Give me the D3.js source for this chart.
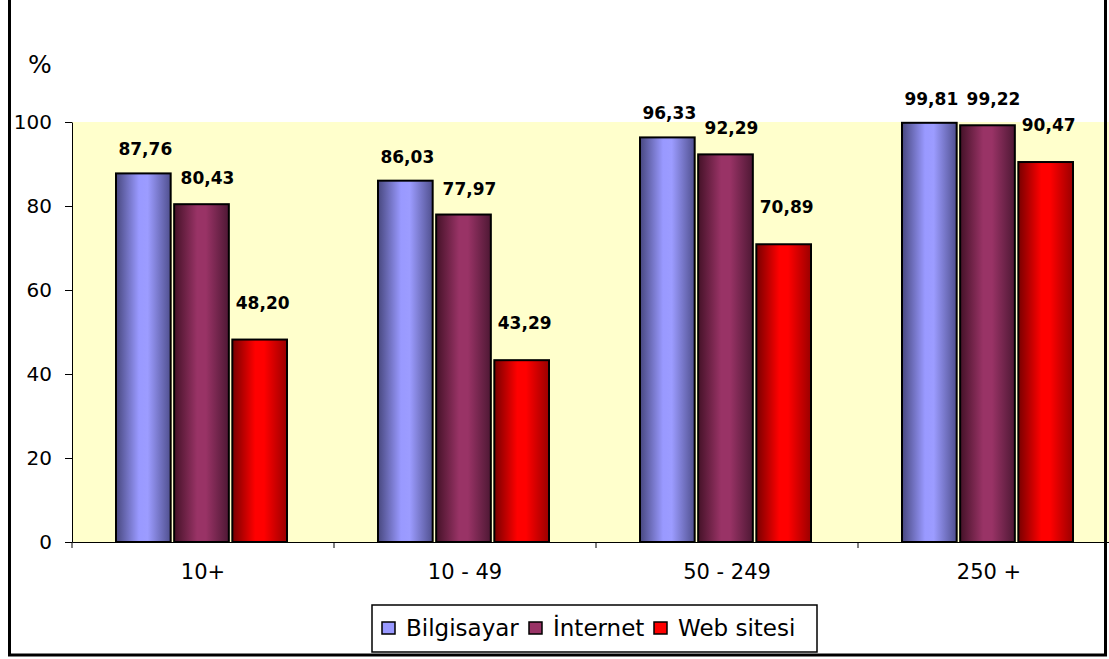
<!DOCTYPE html>
<html>
<head>
<meta charset="utf-8">
<script src="https://cdn.jsdelivr.net/npm/d3@7"></script>
<style>
  body { margin: 0; background: #fff; }
  text { font-family: "DejaVu Sans", sans-serif; fill: #000; }
</style>
</head>
<body>
<div class="chart"></div>
<script>
let categories = ['10+', '10 - 49', '50 - 249', '250 +'];
let seriesNames = ['Bilgisayar', 'İnternet', 'Web sitesi'];
let bilgisayar = [87.76, 86.03, 96.33, 99.81];
let internet = [80.43, 77.97, 92.29, 99.22];
let webSitesi = [48.20, 43.29, 70.89, 90.47];
let yTicks = [0, 20, 40, 60, 80, 100];

let seriesValues = [bilgisayar, internet, webSitesi];

let fullWidth = 1109;
let fullHeight = 659;
let margin = {top: 122, right: -11, bottom: 117, left: 72};
let width = fullWidth - margin.left - margin.right;
let height = fullHeight - margin.top - margin.bottom;

let svg = d3.select('.chart')
  .append('svg')
    .attr('width', fullWidth)
    .attr('height', fullHeight);

// bar gradients (cylinder look)
let gradients = [
  ['#48487f', '#9999ff', '#9c9cff', '#50508f'],
  ['#451228', '#993366', '#993366', '#4e1834'],
  ['#780000', '#ff0000', '#ff0000', '#9a0000']
];
let flatColors = ['#9999ff', '#993366', '#ff0000'];
// label nudges per series (px)
let labelDx = [2, 6, 3];
let labelDy = [18, 20, 31];

let defs = svg.append('defs');
gradients.forEach((g, i) => {
  let lg = defs.append('linearGradient')
    .attr('id', 'grad' + i)
    .attr('x1', 0).attr('x2', 1).attr('y1', 0).attr('y2', 0);
  lg.append('stop').attr('offset', '0%').attr('stop-color', g[0]);
  lg.append('stop').attr('offset', '42%').attr('stop-color', g[1]);
  lg.append('stop').attr('offset', '58%').attr('stop-color', g[2]);
  lg.append('stop').attr('offset', '100%').attr('stop-color', g[3]);
});

let chart = svg.append('g')
  .attr('transform', `translate(${margin.left}, ${margin.top})`);

let yScale = d3.scaleLinear()
  .domain([0, 100])
  .range([height, 0]);

let x0 = d3.scaleBand()
  .domain(categories)
  .range([0, width]);

let x1 = d3.scaleBand()
  .domain(seriesNames)
  .range([44, 215])
  .paddingInner(0.06);

// plot area
chart.append('rect')
  .attr('width', width)
  .attr('height', height)
  .style('fill', '#ffffcc');

let fmt = d3.formatLocale({decimal: ',', thousands: '.', grouping: [3], currency: ['', '']}).format('.2f');

let groups = chart.selectAll('.group')
  .data(categories)
  .enter().append('g')
    .attr('class', 'group')
    .attr('transform', d => `translate(${x0(d)}, 0)`);

let barData = (d, ci) => seriesNames.map((s, si) => ({s: s, si: si, v: seriesValues[si][ci]}));

groups.selectAll('rect')
  .data(barData)
  .enter().append('rect')
    .attr('x', d => x1(d.s))
    .attr('y', d => yScale(d.v))
    .attr('width', x1.bandwidth())
    .attr('height', d => height - yScale(d.v))
    .style('fill', d => `url(#grad${d.si})`)
    .style('stroke', '#000')
    .style('stroke-width', 2);

groups.selectAll('.val')
  .data(barData)
  .enter().append('text')
    .attr('class', 'val')
    .attr('x', d => x1(d.s) + x1.bandwidth() / 2 + labelDx[d.si])
    .attr('y', d => yScale(d.v) - labelDy[d.si])
    .attr('text-anchor', 'middle')
    .style('font-size', '17px')
    .style('font-weight', 'bold')
    .text(d => fmt(d.v));

// y axis
let yAxis = d3.axisLeft(yScale)
  .tickValues(yTicks)
  .tickSizeInner(7)
  .tickSizeOuter(0)
  .tickPadding(13);
let yg = chart.append('g').call(yAxis);
yg.selectAll('text').style('font-size', '20px').style('font-family', '"DejaVu Sans", sans-serif');
yg.select('.domain').attr('stroke', '#000');

// x axis: labels at band centers, ticks at band boundaries
let xAxis = d3.axisBottom(x0)
  .tickSize(0)
  .tickPadding(22);
let xg = chart.append('g')
  .attr('transform', `translate(0, ${height})`)
  .call(xAxis);
xg.selectAll('text').style('font-size', '21px').style('font-family', '"DejaVu Sans", sans-serif');
xg.selectAll('.tick')
  .append('line')
    .attr('stroke', '#000')
    .attr('x1', -x0.bandwidth() / 2)
    .attr('x2', -x0.bandwidth() / 2)
    .attr('y2', 6);

chart.append('text')
  .attr('x', -44)
  .attr('y', -49)
  .style('font-size', '25px')
  .text('%');

// legend
let legend = svg.append('g')
  .attr('transform', 'translate(372, 605)');
legend.append('rect')
  .attr('width', 445)
  .attr('height', 47)
  .style('fill', '#fff')
  .style('stroke', '#000')
  .style('stroke-width', 1.5);

let legendX = [10, 157, 282];
seriesNames.forEach((s, i) => {
  let item = legend.append('g')
    .attr('transform', `translate(${legendX[i]}, 0)`);
  item.append('rect')
    .attr('x', 0)
    .attr('y', 17)
    .attr('width', 13)
    .attr('height', 12)
    .style('fill', flatColors[i])
    .style('stroke', '#000')
    .style('stroke-width', 1.5);
  item.append('text')
    .attr('x', 24)
    .attr('y', 31)
    .style('font-size', '23px')
    .text(s);
});

// outer frame
svg.append('rect')
  .attr('x', 9.5)
  .attr('y', -10)
  .attr('width', 1096)
  .attr('height', 665)
  .style('fill', 'none')
  .style('stroke', '#000')
  .style('stroke-width', 3);
</script>
</body>
</html>
